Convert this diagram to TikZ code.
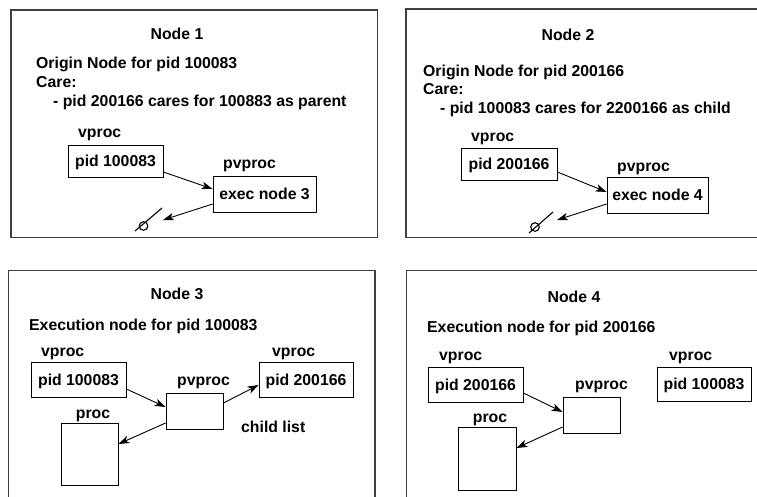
\documentclass[tikz,border=0pt]{standalone}
\usepackage{fontspec}
\setmainfont{Liberation Sans}
\usetikzlibrary{arrows.meta}

\begin{document}
\begin{tikzpicture}[x=1pt, y=1pt,
        font=\fontsize{15.8}{19}\selectfont\bfseries,
        rahmen/.style={draw=black!75, line width=1.3pt},
        kasten/.style={draw, line width=0.8pt, inner sep=0pt, text depth=0pt},
        schrift/.style={anchor=base west, inner sep=0pt},
        pfeil/.style={-{Stealth[length=11pt, width=7.5pt, inset=3pt]}, line width=0.9pt},
        nichts/.style={line width=1.1pt}]

        \clip (0,0) rectangle (757,-496);

        % Rahmen
        \draw [rahmen] (11,-10) rectangle (377.5,-237.5);
        \draw [rahmen] (406,-9) rectangle (770,-237.5);
        \draw [rahmen] (8.5,-270.7) rectangle (375,-510);
        \draw [rahmen] (406.7,-270.7) rectangle (770,-510);

        % Node 1
        \node [schrift, anchor=base] (titel1) at (177,-39) {Node 1};
        \node [schrift] (herkunft1) at (36,-68) {Origin Node for pid 100083};
        \node [schrift] (care1) at (36,-87) {Care:};
        \node [schrift] (zeile1) at (53,-106) {- pid 200166 cares for 100883 as parent};
        \node [schrift] (vname1) at (78,-137) {vproc};
        \node [kasten, minimum width=95pt, minimum height=32pt] (vproc1) at (115.5,-161) {pid 100083};
        \node [schrift] (pvname1) at (223,-168) {pvproc};
        \node [kasten, minimum width=103pt, minimum height=36pt] (exec1) at (264.5,-194) {exec node 3};
        \coordinate (nil1) at (163,-220);
        \draw [nichts] (162,-208) -- (135,-231);
        \draw [nichts] (143.5,-226) circle (4.3);
        \draw [pfeil] ([yshift=-11pt]vproc1.east) -- ([yshift=5pt]exec1.west);
        \draw [pfeil] ([yshift=-10pt]exec1.west) -- (nil1);

        % Node 2
        \node [schrift, anchor=base] (titel2) at (568,-40) {Node 2};
        \node [schrift] (herkunft2) at (423,-76) {Origin Node for pid 200166};
        \node [schrift] (care2) at (423,-94) {Care:};
        \node [schrift] (zeile2) at (440,-113) {- pid 100083 cares for 2200166 as child};
        \node [schrift] (vname2) at (471,-141) {vproc};
        \node [kasten, minimum width=96pt, minimum height=32pt] (vproc2) at (509,-164) {pid 200166};
        \node [schrift] (pvname2) at (617,-171) {pvproc};
        \node [kasten, minimum width=101pt, minimum height=36pt] (exec2) at (657.5,-195) {exec node 4};
        \coordinate (nil2) at (557,-220);
        \draw [nichts] (553,-212) -- (529,-233);
        \draw [nichts] (535,-227) circle (4.3);
        \draw [pfeil] ([yshift=-8pt]vproc2.east) -- ([yshift=3pt]exec2.west);
        \draw [pfeil] ([yshift=-9pt]exec2.west) -- (nil2);

        % Node 3
        \node [schrift, anchor=base] (titel3) at (177,-299) {Node 3};
        \node [schrift] (ausf3) at (29,-330) {Execution node for pid 100083};
        \node [schrift] (vname3a) at (41,-356) {vproc};
        \node [kasten, minimum width=95pt, minimum height=35pt] (vproc3a) at (78.5,-379.5) {pid 100083};
        \node [schrift] (pvname3) at (177,-385) {pvproc};
        \node [kasten, minimum width=57pt, minimum height=36pt] (pv3) at (194.5,-411) {};
        \node [schrift] (vname3b) at (272,-356) {vproc};
        \node [kasten, minimum width=94pt, minimum height=35pt] (vproc3b) at (306,-379.5) {pid 200166};
        \node [schrift] (kind3) at (241,-432) {child list};
        \node [schrift, anchor=base] (pname3) at (93,-418) {proc};
        \node [kasten, minimum width=57pt, minimum height=62pt] (proc3) at (89.5,-454) {};
        \draw [pfeil] ([yshift=-9.5pt]vproc3a.east) -- ([yshift=4pt]pv3.west);
        \draw [pfeil] ([yshift=8pt]pv3.east) -- ([yshift=-5.5pt]vproc3b.west);
        \draw [pfeil] ([yshift=-12pt]pv3.west) -- ([yshift=10pt]proc3.east);

        % Node 4
        \node [schrift, anchor=base] (titel4) at (574,-302) {Node 4};
        \node [schrift] (ausf4) at (427,-332) {Execution node for pid 200166};
        \node [schrift] (vname4a) at (439,-360) {vproc};
        \node [kasten, minimum width=95pt, minimum height=35pt] (vproc4a) at (475.5,-384.5) {pid 200166};
        \node [schrift] (pvname4) at (575,-389) {pvproc};
        \node [kasten, minimum width=57pt, minimum height=36pt] (pv4) at (591.5,-415) {};
        \node [schrift, anchor=base] (pname4) at (490,-422) {proc};
        \node [kasten, minimum width=58pt, minimum height=63pt] (proc4) at (487,-458.5) {};
        \node [schrift] (vname4b) at (669,-360) {vproc};
        \node [kasten, minimum width=94pt, minimum height=34pt] (vproc4b) at (704,-384) {pid 100083};
        \draw [pfeil] ([yshift=-8.5pt]vproc4a.east) -- ([yshift=3pt]pv4.west);
        \draw [pfeil] ([yshift=-12pt]pv4.west) -- ([yshift=10.5pt]proc4.east);

\end{tikzpicture}
\end{document}
